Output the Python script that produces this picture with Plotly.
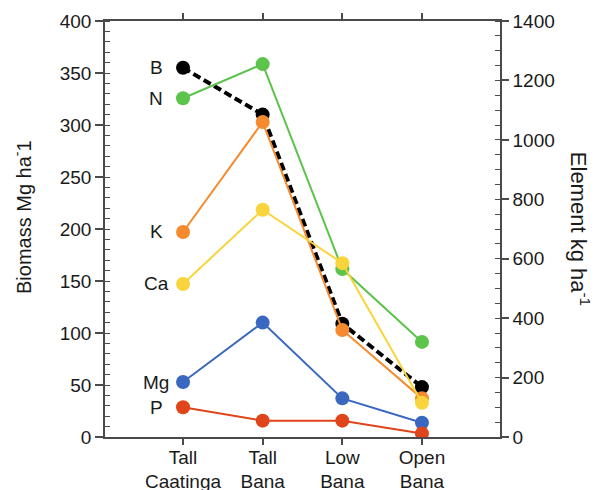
import plotly.graph_objects as go

# Stand types along the x axis
sites = ["Tall<br>Caatinga", "Tall<br>Bana", "Low<br>Bana", "Open<br>Bana"]

# Above-ground biomass (Mg ha-1), left axis
biomass = [355, 310, 109, 48]

# Element stocks (kg ha-1), right axis
nitrogen = [1140, 1255, 565, 320]
potassium = [690, 1060, 360, 130]
calcium = [515, 765, 585, 115]
magnesium = [185, 385, 130, 48]
phosphorus = [100, 55, 55, 12]

FONT = "Liberation Sans, Arial, Helvetica, sans-serif"
INK = "#1a1a1a"
AXIS = "#4a4a4a"

series = [
    ("B", biomass, "#000000", "y", dict(width=4, dash="8px,4px")),
    ("N", nitrogen, "#5cc34b", "y2", dict(width=2)),
    ("K", potassium, "#f58a2e", "y2", dict(width=2)),
    ("Ca", calcium, "#f9d43c", "y2", dict(width=2)),
    ("Mg", magnesium, "#3a68c0", "y2", dict(width=2)),
    ("P", phosphorus, "#e0441a", "y2", dict(width=2)),
]

fig = go.Figure()
for name, vals, color, yax, line in series:
    fig.add_trace(go.Scatter(
        x=sites, y=vals, name=name, yaxis=yax,
        mode="lines+markers",
        line=dict(color=color, **line),
        marker=dict(color=color, size=14),
        showlegend=False,
    ))
    # series label to the left of the first point
    fig.add_annotation(
        x=sites[0], y=vals[0], yref=yax, text=name, showarrow=False,
        xshift=-27, xanchor="center", yanchor="middle",
        font=dict(family=FONT, size=19, color=INK),
    )

# axis titles
fig.add_annotation(
    xref="paper", yref="paper", x=-0.21, y=0.529,
    text="Biomass Mg ha<sup>-</sup>1", textangle=-90, showarrow=False,
    xanchor="center", yanchor="middle",
    font=dict(family=FONT, size=20, color=INK),
)
fig.add_annotation(
    xref="paper", yref="paper", x=1.203, y=0.50,
    text="Element kg ha<sup>-1</sup>", textangle=90, showarrow=False,
    xanchor="center", yanchor="middle",
    font=dict(family=FONT, size=22, color=INK),
)

fig.update_layout(
    width=599, height=490,
    margin=dict(l=105, r=99, t=21, b=53),
    paper_bgcolor="white", plot_bgcolor="white",
    font=dict(family=FONT, size=19, color=INK),
    xaxis=dict(
        type="category", categoryorder="array", categoryarray=sites,
        range=[-0.98, 3.98], automargin=False,
        showline=True, linecolor=AXIS, linewidth=1.5, mirror="ticks",
        ticks="outside", ticklen=6, tickwidth=1.5, tickcolor=AXIS,
        ticklabelstandoff=-4,
        showgrid=False, zeroline=False,
        tickfont=dict(family=FONT, size=19, color=INK),
    ),
    yaxis=dict(
        range=[0, 400], dtick=50, tick0=0, automargin=False,
        showline=True, linecolor=AXIS, linewidth=1.5,
        ticks="outside", ticklen=8, tickwidth=1.5, tickcolor=AXIS,
        minor=dict(dtick=10, ticks="inside", ticklen=5, tickwidth=1.2, tickcolor=AXIS, showgrid=False),
        showgrid=False, zeroline=False,
        tickfont=dict(family=FONT, size=19, color=INK),
    ),
    yaxis2=dict(
        range=[0, 1400], dtick=200, tick0=0, automargin=False,
        overlaying="y", side="right", anchor="x",
        showline=True, linecolor=AXIS, linewidth=1.5,
        ticks="outside", ticklen=7, tickwidth=1.5, tickcolor=AXIS,
        minor=dict(dtick=50, ticks="inside", ticklen=5, tickwidth=1.2, tickcolor=AXIS, showgrid=False),
        showgrid=False, zeroline=False,
        tickfont=dict(family=FONT, size=19, color=INK),
    ),
)

fig.write_html("out.html")
